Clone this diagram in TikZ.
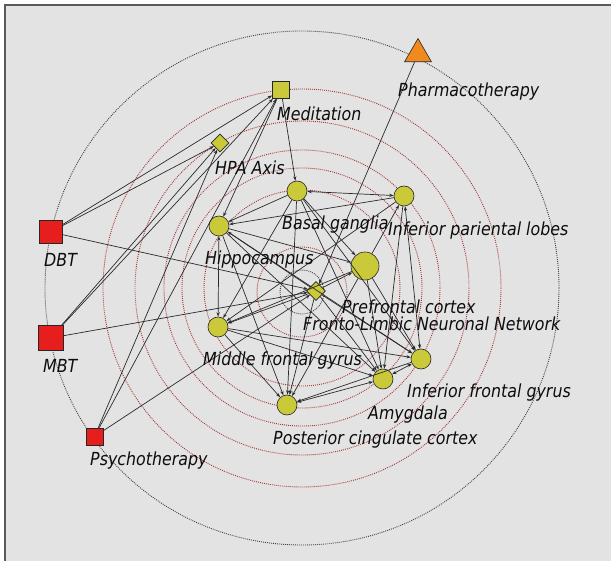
\documentclass[tikz,border=0pt]{standalone}
\usepackage{fontspec}
\setmainfont{DejaVu Sans}[FakeStretch=0.88]
\usetikzlibrary{shapes.geometric,arrows.meta}

\definecolor{panelgray}{HTML}{E3E3E3}
\definecolor{framegray}{HTML}{5A5A5A}
\definecolor{ringred}{HTML}{A83434}
\definecolor{ringgray}{HTML}{404040}
\definecolor{olivefill}{HTML}{C9C93A}
\definecolor{therapyred}{HTML}{E61E1E}
\definecolor{pharmorange}{HTML}{F0891E}
\definecolor{edgegray}{HTML}{2A2A2A}

\tikzset{
  region/.style={circle, draw=black!85, fill=olivefill, line width=0.6pt,
                 minimum size=20pt, inner sep=0pt},
  hub/.style={diamond, draw=black!85, fill=olivefill, line width=0.6pt,
              minimum width=19pt, minimum height=19pt, inner sep=0pt},
  practice/.style={rectangle, draw=black!85, fill=olivefill, line width=0.6pt,
                   inner sep=0pt},
  therapy/.style={rectangle, draw=black!85, fill=therapyred, line width=0.6pt,
                  inner sep=0pt},
  drug/.style={regular polygon, regular polygon sides=3, draw=black!85,
               fill=pharmorange, line width=0.6pt, minimum size=31pt, inner sep=0pt},
  lbl/.style={anchor=base west, inner sep=0pt, text=black!95,
              font=\fontsize{18}{20}\selectfont\itshape},
  link/.style={draw=edgegray, line width=0.7pt, -{Stealth[length=4.5pt,width=3.2pt]}},
  bilink/.style={draw=edgegray, line width=0.7pt,
                 {Stealth[length=4.5pt,width=3.2pt]}-{Stealth[length=4.5pt,width=3.2pt]}},
  redring/.style={draw=ringred, line width=0.9pt, dash pattern=on 0.9pt off 1.1pt},
  grayring/.style={draw=ringgray, line width=0.9pt, dash pattern=on 0.9pt off 1.1pt},
}

\begin{document}
\begin{tikzpicture}[x=1pt,y=-1pt]
\useasboundingbox (0,0) rectangle (611,561);

% panel and frame
\fill[white] (0,0) rectangle (611,561);
\fill[panelgray] (5,5) rectangle (611,561);
\draw[framegray, line width=2pt] (5,561) -- (5,5) -- (611,5);

% concentric layout rings
\coordinate (ctr) at (302,288);
\draw[grayring] (ctr) circle[radius=257];
\draw[redring]  (ctr) circle[radius=199];
\draw[redring]  (ctr) circle[radius=167];
\draw[redring]  (ctr) circle[radius=138];
\draw[redring]  (ctr) circle[radius=120];
\draw[redring]  (ctr) circle[radius=98];
\draw[redring]  (302,292) circle[radius=45];
\draw[grayring] (302,292) circle[radius=22];

% nodes
\node[drug] (pharm) at (418,54) {};
\node[practice, minimum size=17pt] (med) at (281,90) {};
\node[hub, minimum width=18pt, minimum height=18pt] (hpa) at (220,143) {};
\node[region] (bg)  at (297,191) {};
\node[region] (ipl) at (404,196) {};
\node[region] (hip) at (219,226) {};
\node[region, minimum size=28pt] (pfc) at (365,266) {};
\node[hub] (fln) at (316,291) {};
\node[region] (mfg) at (218,327) {};
\node[region] (ifg) at (421,359) {};
\node[region] (amy) at (383,379) {};
\node[region] (pcc) at (287,405) {};
\node[therapy, minimum size=23pt] (dbt) at (50.5,232) {};
\node[therapy, minimum size=25pt] (mbt) at (50.5,338) {};
\node[therapy, minimum size=17pt] (psy) at (94.5,436.5) {};

% connectors from interventions
\draw[link] (dbt) -- (med);
\draw[link] (dbt) -- (hpa);
\draw[link] (dbt) -- (fln);
\draw[link] (mbt) -- (med);
\draw[link] (mbt) -- (hpa);
\draw[link] (mbt) -- (fln);
\draw[link] (psy) -- (hpa);
\draw[link] (psy) -- (med);
\draw[link] (psy) -- (fln);
\draw[link] (pharm) -- (fln);
\draw[link] (med) -- (hip);
\draw[link] (med) -- (bg);

% connectors within the fronto-limbic network
\draw[bilink] (bg) -- (ipl);
\draw[link] (ipl) -- (hip);
\draw[link] (bg) -- (hip);
\draw[bilink] (hip) -- (mfg);
\draw[link] (hip) -- (pcc);
\draw[link] (hip) -- (amy);
\draw[link] (hip) -- (ifg);
\draw[link] (hip) -- (pfc);
\draw[link] (bg) -- (pfc);
\draw[link] (bg) -- (mfg);
\draw[link] (bg) -- (pcc);
\draw[link] (bg) -- (amy);
\draw[link] (bg) -- (ifg);
\draw[link] (ipl) -- (mfg);
\draw[link] (ipl) -- (amy);
\draw[bilink] (ipl) -- (ifg);
\draw[link] (pfc) -- (ipl);
\draw[link] (pfc) -- (mfg);
\draw[link] (pfc) -- (pcc);
\draw[link] (pfc) -- (amy);
\draw[link] (pfc) -- (ifg);
\draw[link] (fln) -- (pfc);
\draw[link] (fln) -- (mfg);
\draw[link] (fln) -- (hip);
\draw[link] (fln) -- (pcc);
\draw[link] (fln) -- (amy);
\draw[link] (fln) -- (ifg);
\draw[link] (mfg) -- (pcc);
\draw[link] (mfg) -- (amy);
\draw[link] (mfg) -- (ifg);
\draw[bilink] (amy) -- (pcc);
\draw[bilink] (amy) -- (ifg);
\draw[link] (ifg) -- (pcc);

% labels
\node[lbl] (pharmL) at (398,97)  {Pharmacotherapy};
\node[lbl] (medL)   at (277,121) {Meditation};
\node[lbl] (hpaL)   at (215,175) {HPA Axis};
\node[lbl] (bgL)    at (282,230) {Basal ganglia};
\node[lbl] (iplL)   at (388,236) {Inferior pariental lobes};
\node[lbl] (hipL)   at (205,265) {Hippocampus};
\node[lbl] (pfcL)   at (342,314) {Prefrontal cortex};
\node[lbl] (flnL)   at (303,331) {Fronto-Limbic Neuronal Network};
\node[lbl] (mfgL)   at (203,366) {Middle frontal gyrus};
\node[lbl] (ifgL)   at (407,398) {Inferior frontal gyrus};
\node[lbl] (amyL)   at (368,420) {Amygdala};
\node[lbl] (pccL)   at (273,445) {Posterior cingulate cortex};
\node[lbl] (dbtL)   at (44,267)  {DBT};
\node[lbl] (mbtL)   at (43,373)  {MBT};
\node[lbl] (psyL)   at (90,466)  {Psychotherapy};
\end{tikzpicture}
\end{document}
